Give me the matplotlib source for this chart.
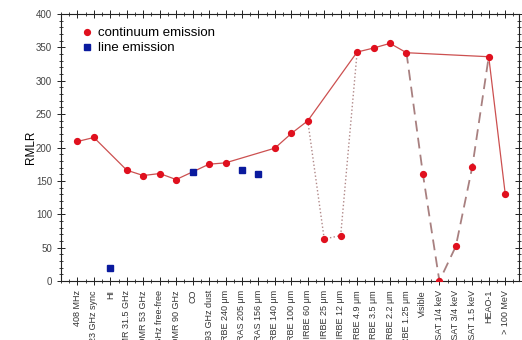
import matplotlib
matplotlib.use("Agg")
import matplotlib.pyplot as plt
from matplotlib.ticker import MultipleLocator

plt.rcParams['font.family'] = ['Liberation Sans', 'DejaVu Sans']

categories = ["408 MHz", "23 GHz sync", "HI", "DMR 31.5 GHz", "DMR 53 GHz",
              "23 GHz free-free", "DMR 90 GHz", "CO", "93 GHz dust",
              "DIRBE 240 \u03bcm", "FIRAS 205 \u03bcm", "FIRAS 156 \u03bcm",
              "DIRBE 140 \u03bcm", "DIRBE 100 \u03bcm", "DIRBE 60 \u03bcm",
              "DIRBE 25 \u03bcm", "DIRBE 12 \u03bcm", "DIRBE 4.9 \u03bcm",
              "DIRBE 3.5 \u03bcm", "DIRBE 2.2 \u03bcm", "DIRBE 1.25 \u03bcm",
              "Visible", "ROSAT 1/4 keV", "ROSAT 3/4 keV", "ROSAT 1.5 keV",
              "HEAO-1", "> 100 MeV"]

continuum = {
    "408 MHz": 209, "23 GHz sync": 215, "DMR 31.5 GHz": 166, "DMR 53 GHz": 158,
    "23 GHz free-free": 161, "DMR 90 GHz": 152, "93 GHz dust": 175,
    "DIRBE 240 \u03bcm": 177, "DIRBE 140 \u03bcm": 199, "DIRBE 100 \u03bcm": 221,
    "DIRBE 60 \u03bcm": 240, "DIRBE 25 \u03bcm": 63, "DIRBE 12 \u03bcm": 68,
    "DIRBE 4.9 \u03bcm": 343, "DIRBE 3.5 \u03bcm": 349, "DIRBE 2.2 \u03bcm": 356,
    "DIRBE 1.25 \u03bcm": 342, "Visible": 160, "ROSAT 1/4 keV": 0,
    "ROSAT 3/4 keV": 52, "ROSAT 1.5 keV": 171, "HEAO-1": 336, "> 100 MeV": 131,
}

line_emission = {"HI": 20, "CO": 163, "FIRAS 205 \u03bcm": 167, "FIRAS 156 \u03bcm": 161}

solid_path = ["408 MHz", "23 GHz sync", "DMR 31.5 GHz", "DMR 53 GHz", "23 GHz free-free",
              "DMR 90 GHz", "93 GHz dust", "DIRBE 240 \u03bcm", "DIRBE 140 \u03bcm",
              "DIRBE 100 \u03bcm", "DIRBE 60 \u03bcm", "DIRBE 4.9 \u03bcm", "DIRBE 3.5 \u03bcm",
              "DIRBE 2.2 \u03bcm", "DIRBE 1.25 \u03bcm", "HEAO-1", "> 100 MeV"]
dotted_path = ["DIRBE 60 \u03bcm", "DIRBE 25 \u03bcm", "DIRBE 12 \u03bcm", "DIRBE 4.9 \u03bcm"]
dashed_path = ["DIRBE 1.25 \u03bcm", "Visible", "ROSAT 1/4 keV", "ROSAT 3/4 keV",
               "ROSAT 1.5 keV", "HEAO-1"]

pos = {c: i + 1 for i, c in enumerate(categories)}

fig = plt.figure(figsize=(5.22, 3.40), dpi=100)
ax = fig.add_axes([61/522, 59/340, 458/522, 267/340])

def path_xy(names):
    return [pos[n] for n in names], [continuum[n] for n in names]

x, y = path_xy(solid_path)
ax.plot(x, y, '-', color='#cc5050', lw=0.9, zorder=2)
x, y = path_xy(dotted_path)
ax.plot(x, y, ':', color='#b08888', lw=1.0, zorder=2)
x, y = path_xy(dashed_path)
ax.plot(x, y, '--', color='#a88080', lw=1.3, dashes=(6, 3.5), zorder=2)

cx = [pos[n] for n in continuum]
cy = list(continuum.values())
ax.plot(cx, cy, 'o', color='#e0101e', ms=4.2, mec='#e0101e', ls='none', zorder=3,
        label='continuum emission')
lx = [pos[n] for n in line_emission]
ly = list(line_emission.values())
ax.plot(lx, ly, 's', color='#0a1a9e', ms=4.0, ls='none', zorder=3, label='line emission')

ax.set_xlim(0, 27.84)
ax.set_ylim(0, 400)
ax.set_xticks([pos[c] for c in categories])
ax.set_xticklabels(categories, rotation=90, fontsize=6.5, color='#333333')
ax.xaxis.set_minor_locator(MultipleLocator(0.5))
ax.yaxis.set_major_locator(MultipleLocator(50))
ax.yaxis.set_minor_locator(MultipleLocator(10))
ax.tick_params(axis='y', labelsize=7, labelcolor='#444444')
ax.tick_params(which='major', direction='inout', length=6, width=0.7, top=True, right=True,
               color='#222222')
ax.tick_params(which='minor', direction='inout', length=3, width=0.6, top=True, right=True,
               color='#222222')
for s in ax.spines.values():
    s.set_linewidth(0.8)
    s.set_color('#222222')

ax.set_ylabel('RMLR', fontsize=8.5, labelpad=-1)

ax.legend(loc='upper left', bbox_to_anchor=(0.022, 0.985), frameon=False, fontsize=9.5,
          handlelength=1.0, handletextpad=0.35, labelspacing=0.2, borderaxespad=0.3,
          markerscale=1.0)

fig.savefig('out.png', dpi=100)
